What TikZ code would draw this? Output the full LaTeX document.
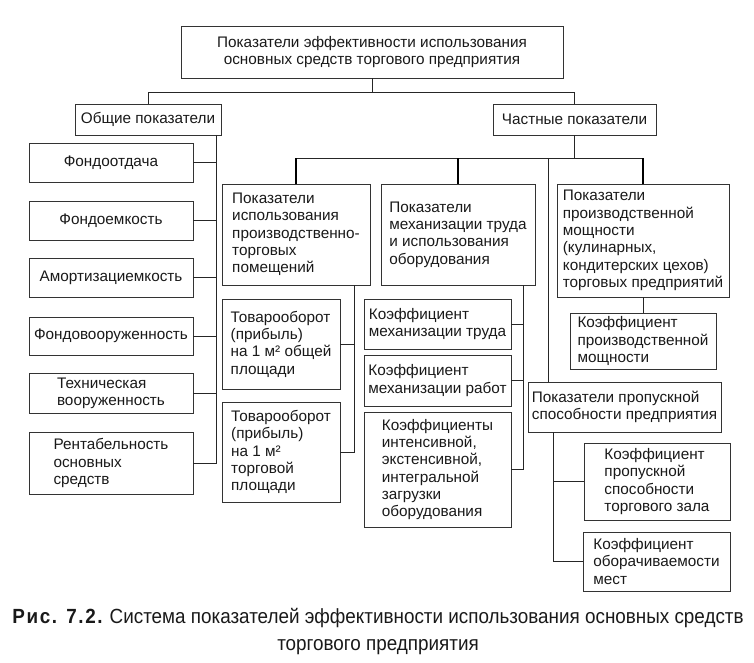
\documentclass[tikz,border=0pt]{standalone}
\usepackage{fontspec}
\setmainfont{Liberation Sans}
\newfontfamily\capfont[FakeStretch=0.92]{Liberation Sans}
\newfontfamily\capfontsp[FakeStretch=0.92,LetterSpace=8]{Liberation Sans}
\usetikzlibrary{calc}

\begin{document}
\begin{tikzpicture}[x=1pt,y=-1pt]

\tikzset{
    box/.style={draw=black!80,line width=0.7pt,align=left,inner sep=2pt,text=black!90,
        font=\fontsize{15.3}{17.3}\selectfont},
    link/.style={draw=black!85,line width=0.8pt},
    drop/.style={draw=black,line width=2.4pt},
    caption/.style={align=center,text=black!90,font=\capfont\fontsize{20.5}{27}\selectfont}}

\useasboundingbox (0,0) rectangle (754,663);

\node[box, align=center, minimum width=382, minimum height=52] (top) at (372,52) {Показатели эффективности использования\\основных средств торгового предприятия};

\node[box, minimum width=146, minimum height=31] (gen) at (148,119.5) {Общие показатели};
\node[box, minimum width=163, minimum height=31] (part) at (574.5,119.5) {Частные показатели};

\node[box, minimum width=164, minimum height=39] (fo) at (111,162.5) {Фондоотдача};
\node[box, minimum width=164, minimum height=39] (fe) at (111,220.5) {Фондоемкость};
\node[box, minimum width=164, minimum height=39] (am) at (111,277.5) {Амортизациемкость};
\node[box, minimum width=164, minimum height=38] (fv) at (111,336) {Фондовооруженность};
\node[box, minimum width=164, minimum height=40] (tv) at (111,393) {Техническая\\вооруженность};
\node[box, minimum width=164, minimum height=62] (rent) at (111,463) {Рентабельность\\основных\\средств};

\node[box, minimum width=148, minimum height=101] (prem) at (296,234.5) {Показатели\\использования\\производственно-\\торговых\\помещений};
\node[box, minimum width=118, minimum height=90] (to1) at (281,344) {Товарооборот\\(прибыль)\\на 1 м² общей\\площади};
\node[box, minimum width=118, minimum height=100] (to2) at (281,452) {Товарооборот\\(прибыль)\\на 1 м²\\торговой\\площади};

\node[box, minimum width=154, minimum height=101] (mech) at (458,234.5) {Показатели\\механизации труда\\и использования\\оборудования};
\node[box, minimum width=147, minimum height=50] (mt) at (437.5,324) {Коэффициент\\механизации труда};
\node[box, minimum width=147, minimum height=51] (mr) at (437.5,380.5) {Коэффициент\\механизации работ};
\node[box, minimum width=147, minimum height=115] (ki) at (437.5,469.5) {Коэффициенты\\интенсивной,\\экстенсивной,\\интегральной\\загрузки\\оборудования};

\node[box, minimum width=172, minimum height=113] (cap) at (643,240.5) {Показатели\\производственной\\мощности\\(кулинарных,\\кондитерских цехов)\\торговых предприятий};
\node[box, minimum width=146, minimum height=56] (kpm) at (643,341) {Коэффициент\\производственной\\мощности};

\node[box, minimum width=193, minimum height=50] (thr) at (624.5,407) {Показатели пропускной\\способности предприятия};
\node[box, minimum width=146, minimum height=77] (kpz) at (657,481.5) {Коэффициент\\пропускной\\способности\\торгового зала};
\node[box, minimum width=147, minimum height=59] (kom) at (656.5,561.5) {Коэффициент\\оборачиваемости\\мест};

\draw[link] (top.south) -- ++(0,14) coordinate (t1);
\draw[link] (gen.north) |- (t1) -| (part.north);

\coordinate (g1) at (216,135);
\draw[link] (g1) |- (rent.east);
\foreach \n in {fo,fe,am,fv,tv}
    \draw[link] (\n.east) -- (\n.east -| g1);

\draw[link] (part.south) -- ++(0,23) coordinate (p1);
\draw[link] (prem.north |- p1) -- (cap.north |- p1);
\foreach \n in {prem,mech,cap}
    \draw[drop] (\n.north) -- (\n.north |- p1);
\coordinate (p2) at (548,158);
\draw[link] (p2) -- (p2 |- thr.north);

\coordinate (q1) at (354,285);
\draw[link] (q1) |- (to2.east);
\draw[link] (to1.east) -- (to1.east -| q1);

\coordinate (m1) at (523,285);
\draw[link] (m1) |- (ki.east);
\draw[link] (mt.east) -- (mt.east -| m1);
\draw[link] (mr.east) -- (mr.east -| m1);

\draw[link] (cap.south) -- (kpm.north);

\coordinate (r1) at (553,432);
\draw[link] (r1) |- (kom.west);
\draw[link] (kpz.west) -- (kpz.west -| r1);

\node[caption] (title) at (378,632) {{\capfontsp\bfseries Рис. 7.2.} Система показателей эффективности использования основных средств\\торгового предприятия};

\end{tikzpicture}
\end{document}
